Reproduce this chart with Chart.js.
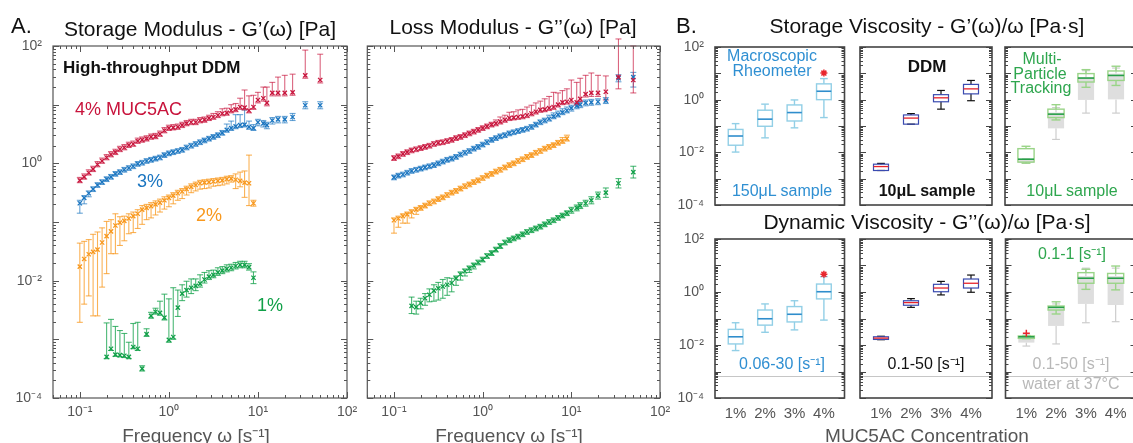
<!DOCTYPE html>
<html>
<head>
<meta charset="utf-8">
<title>MUC5AC rheology</title>
<script src="https://cdn.jsdelivr.net/npm/chart.js@4.4.1/dist/chart.umd.min.js"></script>
<style>
  html, body { margin: 0; padding: 0; background: #fff; }
  body { position: relative; width: 1133px; height: 443px; overflow: hidden; font-family: "Liberation Sans", Arial, sans-serif; }
  .box { position: absolute; }
  .txt { position: absolute; white-space: nowrap; line-height: 1; }
</style>
</head>
<body>
<div class="box" style="left:0;top:30px;width:365px;height:413px"><canvas id="gStore"></canvas></div>
<div class="box" style="left:362px;top:30px;width:318px;height:413px"><canvas id="gLoss"></canvas></div>
<div class="box" style="left:675px;top:32px;width:175px;height:183px"><canvas id="rheoS"></canvas></div>
<div class="box" style="left:855px;top:32px;width:142px;height:183px"><canvas id="ddmS"></canvas></div>
<div class="box" style="left:1000px;top:32px;width:142px;height:183px"><canvas id="mptS"></canvas></div>
<div class="box" style="left:675px;top:226px;width:175px;height:217px"><canvas id="rheoL"></canvas></div>
<div class="box" style="left:855px;top:226px;width:142px;height:217px"><canvas id="ddmL"></canvas></div>
<div class="box" style="left:1000px;top:226px;width:142px;height:217px"><canvas id="mptL"></canvas></div>
<script>
// ---- data (stored as log10 values) ----

// frequency [1/s]
const freq = [0.10,0.112,0.126,0.141,0.158,0.178,0.20,0.224,0.251,0.282,
              0.316,0.355,0.398,0.447,0.501,0.562,0.631,0.708,0.794,0.891,
              1.00,1.12,1.26,1.41,1.58,1.78,2.00,2.24,2.51,2.82,
              3.16,3.55,3.98,4.47,5.01,5.62,6.31,7.08,7.94,8.91,
              10.0,11.5,12.6,14.5,16.8,20.0,24.5,34.0,50.0];

const freqTicks = [0.1, 1, 10, 100];
const modTicks = [1e-4, 1e-2, 1, 100];
const concLabels = ['1%', '2%', '3%', '4%'];

// log10 G'(w) [Pa] and error bar lengths (decades up / down)
const gp4 = [-0.29,-0.23,-0.16,-0.10,-0.02,0.04,0.10,0.15,0.19,0.24,
             0.27,0.31,0.33,0.38,0.40,0.42,0.45,0.46,0.50,0.56,
             0.60,0.61,0.62,0.65,0.68,0.70,0.70,0.73,0.74,0.77,
             0.79,0.82,0.85,0.86,0.90,0.92,0.96,0.95,0.90,0.96,
             1.08,1.11,1.03,1.20,1.20,1.20,1.21,1.50,1.42];
const gp4Up = [0.05,0.05,0.05,0.05,0.05,0.05,0.05,0.05,0.05,0.05,
               0.05,0.05,0.05,0.05,0.05,0.05,0.05,0.05,0.05,0.05,
               0.05,0.05,0.05,0.05,0.05,0.05,0.05,0.05,0.05,0.05,
               0.06,0.06,0.08,0.08,0.10,0.10,0.15,0.30,0.25,0.20,
               0.13,0.19,0.27,0.18,0.27,0.30,0.31,0.43,0.44];
const gp4Dn = [0.04,0.04,0.04,0.04,0.04,0.04,0.04,0.04,0.04,0.04,
               0.04,0.04,0.04,0.04,0.04,0.04,0.04,0.04,0.04,0.04,
               0.04,0.04,0.04,0.04,0.04,0.04,0.04,0.04,0.04,0.04,
               0.04,0.04,0.04,0.04,0.04,0.04,0.04,0.04,0.04,0.04,
               0.05,0.05,0.05,0.05,0.05,0.05,0.05,0.05,0.05];

const gp3 = [-0.68,-0.59,-0.51,-0.44,-0.37,-0.32,-0.27,-0.23,-0.18,-0.15,
             -0.11,-0.08,-0.05,-0.01,0.01,0.04,0.06,0.08,0.10,0.14,
             0.17,0.19,0.21,0.23,0.27,0.30,0.33,0.36,0.39,0.42,
             0.45,0.48,0.52,0.57,0.60,0.63,0.65,0.66,0.62,0.60,
             0.70,0.68,0.65,0.73,0.75,0.75,0.79,0.99,0.99];
const gp3Up = [0.05,0.04,0.04,0.04,0.04,0.04,0.04,0.04,0.04,0.04,
               0.04,0.04,0.04,0.04,0.04,0.04,0.04,0.04,0.04,0.04,
               0.04,0.04,0.04,0.04,0.04,0.04,0.04,0.04,0.04,0.04,
               0.04,0.04,0.04,0.10,0.12,0.20,0.18,0.25,0.10,0.06,
               0.05,0.05,0.05,0.05,0.05,0.05,0.06,0.06,0.06];
const gp3Dn = [0.17,0.10,0.06,0.04,0.04,0.04,0.04,0.04,0.04,0.04,
               0.04,0.04,0.04,0.04,0.04,0.04,0.04,0.04,0.04,0.04,
               0.04,0.04,0.04,0.04,0.04,0.04,0.04,0.04,0.04,0.04,
               0.04,0.04,0.04,0.04,0.04,0.04,0.04,0.04,0.04,0.04,
               0.06,0.06,0.06,0.06,0.06,0.06,0.06,0.06,0.06];

const gp2 = [-1.76,-1.63,-1.55,-1.51,-1.47,-1.35,-1.24,-1.16,-1.06,-1.01,
             -0.98,-0.94,-0.90,-0.86,-0.79,-0.76,-0.73,-0.70,-0.67,-0.63,
             -0.59,-0.55,-0.51,-0.48,-0.44,-0.40,-0.37,-0.34,-0.33,-0.32,
             -0.31,-0.30,-0.29,-0.27,-0.26,-0.28,-0.30,-0.33,-0.34,-0.68,
             null,null,null,null,null,null,null,null,null];
const gp2Up = [0.40,0.30,0.25,0.30,0.30,0.25,0.25,0.20,0.20,0.10,
               0.08,0.08,0.07,0.07,0.07,0.06,0.06,0.06,0.06,0.06,
               0.05,0.05,0.05,0.05,0.05,0.05,0.05,0.05,0.05,0.05,
               0.05,0.05,0.05,0.05,0.05,0.10,0.15,0.20,0.48,0.05,
               null,null,null,null,null,null,null,null,null];
const gp2Dn = [0.95,0.77,0.71,1.09,1.13,0.76,0.64,0.38,0.48,0.39,
               0.34,0.26,0.28,0.25,0.25,0.20,0.20,0.18,0.16,0.15,
               0.15,0.14,0.12,0.12,0.10,0.10,0.10,0.10,0.10,0.10,
               0.08,0.08,0.08,0.08,0.06,0.15,0.10,0.25,0.38,0.05,
               null,null,null,null,null,null,null,null,null];

const gp1 = [null,null,null,null,null,null,-3.30,-3.16,-3.26,-3.27,
             -3.28,-3.30,-3.13,-3.16,-3.50,-2.91,-2.60,-2.53,-2.55,-2.63,
             -3.01,-2.96,-2.46,-2.22,-2.16,-2.12,-2.09,-2.05,-1.98,-1.93,
             -1.90,-1.86,-1.83,-1.80,-1.78,-1.75,-1.73,-1.73,-1.77,-1.95,
             null,null,null,null,null,null,null,null,null];
const gp1Up = [null,null,null,null,null,null,0.58,0.50,0.48,0.42,
               0.38,0.25,0.40,0.45,0.05,0.09,0.06,0.06,0.20,0.40,
               0.70,0.84,0.30,0.15,0.15,0.15,0.12,0.15,0.12,0.10,
               0.08,0.08,0.07,0.07,0.06,0.06,0.06,0.06,0.06,0.10,
               null,null,null,null,null,null,null,null,null];
const gp1Dn = [null,null,null,null,null,null,0.03,0.03,0.03,0.03,
               0.03,0.03,0.03,0.03,0.04,0.04,0.04,0.04,0.04,0.04,
               0.04,0.04,0.15,0.12,0.12,0.10,0.08,0.06,0.06,0.05,
               0.05,0.05,0.05,0.05,0.05,0.05,0.05,0.05,0.05,0.10,
               null,null,null,null,null,null,null,null,null];

// log10 G''(w) [Pa]
const gpp4 = [0.09,0.12,0.16,0.19,0.22,0.24,0.26,0.28,0.30,0.33,
              0.35,0.36,0.38,0.40,0.43,0.45,0.48,0.51,0.54,0.57,
              0.60,0.63,0.66,0.68,0.71,0.74,0.77,0.78,0.79,0.80,
              0.82,0.85,0.88,0.91,0.92,0.94,0.96,1.00,1.04,1.05,
              1.08,1.04,1.10,1.18,1.20,1.20,1.22,1.47,1.42];
const gpp4Up = [0.04,0.04,0.04,0.04,0.04,0.04,0.04,0.04,0.04,0.04,
                0.04,0.04,0.04,0.04,0.04,0.04,0.04,0.04,0.04,0.04,
                0.04,0.04,0.04,0.06,0.08,0.08,0.10,0.10,0.12,0.12,
                0.14,0.14,0.15,0.15,0.18,0.20,0.25,0.20,0.20,0.22,
                0.34,0.34,0.35,0.32,0.34,0.30,0.27,0.65,0.58];
const gpp4Dn = [0.04,0.04,0.04,0.04,0.04,0.04,0.04,0.04,0.04,0.04,
                0.04,0.04,0.04,0.04,0.04,0.04,0.04,0.04,0.04,0.04,
                0.04,0.04,0.04,0.04,0.04,0.04,0.04,0.04,0.04,0.04,
                0.04,0.04,0.04,0.04,0.04,0.04,0.04,0.04,0.04,0.04,
                0.05,0.05,0.05,0.05,0.06,0.06,0.14,0.20,0.22];

const gpp3 = [-0.24,-0.21,-0.19,-0.16,-0.13,-0.11,-0.09,-0.07,-0.05,-0.03,
              0.00,0.03,0.06,0.08,0.11,0.15,0.18,0.21,0.25,0.28,
              0.32,0.36,0.40,0.43,0.46,0.48,0.51,0.53,0.55,0.57,
              0.59,0.62,0.66,0.70,0.73,0.76,0.80,0.83,0.87,0.90,
              0.94,0.98,1.00,1.03,1.04,1.05,1.07,1.45,1.47];
const gpp3Up = [0.04,0.04,0.04,0.04,0.04,0.04,0.04,0.04,0.04,0.04,
                0.04,0.04,0.04,0.04,0.04,0.04,0.04,0.04,0.04,0.04,
                0.04,0.04,0.04,0.04,0.04,0.04,0.04,0.04,0.04,0.04,
                0.04,0.04,0.04,0.04,0.04,0.06,0.06,0.06,0.06,0.06,
                0.05,0.05,0.05,0.05,0.05,0.05,0.05,0.06,0.08];
const gpp3Dn = [0.04,0.04,0.04,0.04,0.04,0.04,0.04,0.04,0.04,0.04,
                0.04,0.04,0.04,0.04,0.04,0.04,0.04,0.04,0.04,0.04,
                0.04,0.04,0.04,0.04,0.04,0.04,0.04,0.04,0.04,0.04,
                0.04,0.04,0.04,0.04,0.04,0.04,0.04,0.04,0.04,0.04,
                0.05,0.05,0.05,0.05,0.05,0.05,0.05,0.06,0.17];

const gpp2 = [-0.97,-0.94,-0.90,-0.87,-0.83,-0.79,-0.76,-0.72,-0.68,-0.65,
              -0.61,-0.58,-0.54,-0.50,-0.47,-0.43,-0.39,-0.36,-0.32,-0.29,
              -0.25,-0.21,-0.18,-0.14,-0.11,-0.07,-0.03,0.00,0.04,0.07,
              0.11,0.14,0.18,0.21,0.25,0.28,0.31,0.35,0.38,0.42,
              null,null,null,null,null,null,null,null,null];
const gpp2Up = [0.04,0.04,0.04,0.04,0.04,0.04,0.04,0.04,0.04,0.04,
                0.04,0.04,0.04,0.04,0.04,0.04,0.04,0.04,0.04,0.04,
                0.04,0.04,0.04,0.04,0.04,0.04,0.04,0.04,0.04,0.04,
                0.04,0.04,0.04,0.04,0.04,0.04,0.04,0.04,0.06,0.06,
                null,null,null,null,null,null,null,null,null];
const gpp2Dn = [0.22,0.15,0.12,0.15,0.10,0.08,0.04,0.04,0.04,0.04,
                0.04,0.04,0.04,0.04,0.04,0.04,0.04,0.04,0.04,0.04,
                0.04,0.04,0.04,0.04,0.04,0.04,0.04,0.04,0.04,0.04,
                0.04,0.04,0.04,0.04,0.04,0.04,0.04,0.04,0.04,0.04,
                null,null,null,null,null,null,null,null,null];

const gpp1 = [null,null,null,null,-2.43,-2.45,-2.38,-2.30,-2.24,-2.17,
              -2.13,-2.10,-2.07,-2.04,-1.96,-1.89,-1.84,-1.79,-1.74,-1.69,
              -1.64,-1.58,-1.53,-1.47,-1.41,-1.35,-1.31,-1.28,-1.25,-1.21,
              -1.17,-1.14,-1.11,-1.08,-1.04,-1.00,-0.97,-0.93,-0.89,-0.85,
              -0.80,-0.76,-0.72,-0.68,-0.63,-0.55,-0.50,-0.34,-0.15];
const gpp1Up = [null,null,null,null,0.15,0.10,0.08,0.08,0.10,0.10,
                0.10,0.12,0.12,0.08,0.04,0.04,0.04,0.04,0.04,0.04,
                0.04,0.04,0.04,0.04,0.04,0.04,0.04,0.04,0.04,0.04,
                0.04,0.04,0.04,0.04,0.04,0.04,0.04,0.04,0.04,0.04,
                0.05,0.05,0.05,0.05,0.06,0.06,0.08,0.08,0.10];
const gpp1Dn = [null,null,null,null,0.13,0.12,0.10,0.12,0.12,0.18,
                0.20,0.20,0.18,0.15,0.12,0.10,0.08,0.07,0.06,0.04,
                0.04,0.04,0.04,0.04,0.04,0.04,0.04,0.04,0.04,0.04,
                0.04,0.04,0.04,0.04,0.04,0.04,0.04,0.04,0.04,0.04,
                0.05,0.05,0.05,0.05,0.06,0.06,0.08,0.08,0.10];

// box plots, log10 [Pa.s]: [whisker low, q1, median, q3, whisker high] for 1%..4%
const rheoStorage = [[-1.99,-1.73,-1.38,-1.13,-0.91],[-1.45,-1.01,-0.74,-0.40,-0.17],
                     [-1.07,-0.81,-0.49,-0.20,-0.01],[-0.68,0.00,0.32,0.60,0.80]];
const rheoStorageOut = [[4, 1.01]];
const ddmStorage = [[-2.69,-2.69,-2.54,-2.45,-2.42],[-0.93,-0.93,-0.70,-0.58,-0.53],
                    [-0.36,-0.08,0.07,0.19,0.35],[-0.04,0.22,0.41,0.58,0.73]];
const mptStorage = [[-2.41,-2.37,-2.26,-1.86,-1.77],[-0.77,-0.68,-0.55,-0.36,-0.19],
                    [0.47,0.67,0.82,0.99,1.14],[0.54,0.73,0.92,1.09,1.27]];
const mptStorageAll = [[-2.42,-2.40,-2.32,-2.28,-2.25],[-1.51,-1.09,-0.70,-0.49,-0.30],
                       [-0.51,-0.01,0.60,0.86,1.10],[-0.51,0.01,0.60,0.99,1.20]];

const rheoLoss = [[-2.21,-1.96,-1.69,-1.41,-1.16],[-1.52,-1.25,-1.01,-0.68,-0.45],
                  [-1.43,-1.13,-0.84,-0.55,-0.33],[-1.06,-0.26,0.01,0.30,0.58]];
const rheoLossOut = [[4, 0.67]];
const ddmLoss = [[-1.80,-1.79,-1.74,-1.69,-1.67],[-0.58,-0.50,-0.40,-0.33,-0.25],
                 [-0.11,0.01,0.15,0.29,0.40],[-0.01,0.15,0.33,0.49,0.64]];
const mptLoss = [[-1.76,-1.75,-1.69,-1.66,-1.65],[-0.83,-0.68,-0.58,-0.53,-0.37],
                 [0.10,0.33,0.52,0.73,0.86],[0.08,0.33,0.52,0.70,0.98]];
const mptLossOut = [[1, -1.56]];
const mptLossAll = [[-2.04,-1.91,-1.75,-1.69,-1.62],[-1.96,-1.28,-0.70,-0.62,-0.45],
                    [-1.16,-0.45,0.30,0.60,0.90],[-1.12,-0.49,0.30,0.60,0.90]];

const waterVisc = 0.00069; // Pa.s, water at 37 C

// ---- helpers ----
Chart.defaults.font.family = '"Liberation Sans", Arial, sans-serif';
Chart.defaults.color = '#555';
Chart.defaults.animation = false;

const SUP = {'-4': '⁻⁴', '-3': '⁻³', '-2': '⁻²', '-1': '⁻¹', '0': '⁰', '1': '¹', '2': '²'};
function decade(v) {
    return '10' + SUP[Math.round(Math.log10(v))];
}

function line(ctx, x1, y1, x2, y2) {
    ctx.beginPath();
    ctx.moveTo(x1, y1);
    ctx.lineTo(x2, y2);
    ctx.stroke();
}

function logMarks(scale) {
    const out = [];
    const lo = Math.floor(Math.log10(scale.min)), hi = Math.ceil(Math.log10(scale.max));
    for (let d = lo; d <= hi; d++) {
        for (let m = 1; m <= 9; m++) {
            const v = m * Math.pow(10, d);
            if (v >= scale.min * 0.999 && v <= scale.max * 1.001) out.push([v, m === 1]);
        }
    }
    return out;
}

function series(vals, up, dn) {
    const pts = [];
    freq.forEach((f, i) => {
        if (vals[i] == null) return;
        pts.push({ x: f, y: Math.pow(10, vals[i]), up: up[i] || 0, dn: dn[i] || 0 });
    });
    return pts;
}

// fix an axis box to a set size and drop the label overhang padding,
// so the chart area lands exactly where the layout padding puts it
function fixSize(prop, size) {
    return s => {
        s[prop] = size;
        s.paddingTop = 0; s.paddingBottom = 0;
        s.paddingLeft = 0; s.paddingRight = 0;
    };
}

// frame with inward log ticks
const frameTicks = {
    id: 'frameTicks',
    afterDatasetsDraw(chart, args, o) {
        const { ctx, chartArea: a, scales } = chart;
        ctx.save();
        ctx.strokeStyle = o.color;
        ctx.lineWidth = 1;
        if (o.xLog) {
            logMarks(scales.x).forEach(([v, major]) => {
                const px = Math.round(scales.x.getPixelForValue(v)) + 0.5;
                const len = major ? o.major : o.minor;
                line(ctx, px, a.bottom, px, a.bottom - len);
                line(ctx, px, a.top, px, a.top + len);
            });
        }
        logMarks(scales.y).forEach(([v, major]) => {
            const py = Math.round(scales.y.getPixelForValue(v)) + 0.5;
            const len = major ? o.major : o.minor;
            line(ctx, a.left, py, a.left + len, py);
            line(ctx, a.right, py, a.right - len, py);
        });
        ctx.lineWidth = o.width;
        ctx.strokeRect(a.left, a.top, a.right - a.left, a.bottom - a.top);
        ctx.restore();
    }
};

// vertical error bars with caps
const errBars = {
    id: 'errBars',
    beforeDatasetsDraw(chart) {
        const { ctx, scales: { x, y } } = chart;
        ctx.save();
        ctx.lineWidth = 1.1;
        for (let k = chart.data.datasets.length - 1; k >= 0; k--) {
            const ds = chart.data.datasets[k];
            ctx.strokeStyle = ds.barColor;
            ds.data.forEach(p => {
                const px = x.getPixelForValue(p.x);
                const top = y.getPixelForValue(p.y * Math.pow(10, p.up));
                const bot = y.getPixelForValue(p.y / Math.pow(10, p.dn));
                line(ctx, px, top, px, bot);
                line(ctx, px - 3, top, px + 3, top);
                line(ctx, px - 3, bot, px + 3, bot);
            });
        }
        ctx.restore();
    }
};

// box and whisker drawing
const boxPlot = {
    id: 'boxPlot',
    beforeDatasetsDraw(chart, args, o) {
        const { ctx, chartArea: a, scales: { x, y } } = chart;
        ctx.save();
        if (o.water) {
            const py = Math.round(y.getPixelForValue(o.water)) + 0.5;
            ctx.strokeStyle = '#c6c6c6';
            ctx.lineWidth = 1.2;
            line(ctx, a.left, py, a.right, py);
        }
        chart.data.datasets.forEach(ds => {
            if (!ds.boxes) return;
            const s = ds.boxStyle;
            const unit = x.getPixelForValue(2) - x.getPixelForValue(1);
            const hw = s.half * unit, cw = s.cap * unit;
            ds.boxes.forEach((b, i) => {
                const cx = x.getPixelForValue(i + 1);
                const [lo, q1, md, q3, hi] = b.map(v => y.getPixelForValue(Math.pow(10, v)));
                ctx.strokeStyle = s.whisker;
                ctx.lineWidth = s.lw;
                line(ctx, cx, q3, cx, hi);
                line(ctx, cx, q1, cx, lo);
                line(ctx, cx - cw, hi, cx + cw, hi);
                line(ctx, cx - cw, lo, cx + cw, lo);
                if (s.fill) {
                    ctx.fillStyle = s.fill;
                    ctx.fillRect(cx - hw, q3, 2 * hw, q1 - q3);
                }
                if (s.edge) {
                    ctx.strokeStyle = s.edge;
                    ctx.strokeRect(cx - hw, q3, 2 * hw, q1 - q3);
                }
                if (s.median) {
                    ctx.strokeStyle = s.median;
                    ctx.lineWidth = s.mlw;
                    line(ctx, cx - hw, md, cx + hw, md);
                }
            });
        });
        ctx.restore();
    }
};

const tickFont = { size: 14 };

function modulusChart(id, sets, showY, pad) {
    return new Chart(document.getElementById(id), {
        type: 'scatter',
        data: {
            datasets: sets.map(s => ({
                data: s.points,
                borderColor: s.color,
                backgroundColor: s.color,
                barColor: s.bar,
                pointStyle: 'crossRot',
                pointRadius: 3,
                borderWidth: 1.3,
                showLine: false
            }))
        },
        options: {
            responsive: true,
            maintainAspectRatio: false,
            events: [],
            layout: { padding: pad },
            plugins: {
                legend: { display: false },
                tooltip: { enabled: false },
                frameTicks: { color: '#555', width: 1.2, major: 6, minor: 3, xLog: true }
            },
            scales: {
                x: {
                    type: 'logarithmic', min: 0.05, max: 100,
                    grid: { display: false, drawTicks: false },
                    border: { display: false },
                    afterBuildTicks: s => { s.ticks = freqTicks.map(v => ({ value: v })); },
                    afterFit: fixSize('height', 45),
                    ticks: { callback: v => decade(v), autoSkip: false, maxRotation: 0, padding: 6, font: tickFont, color: '#555' }
                },
                y: {
                    type: 'logarithmic', min: 1e-4, max: 100,
                    display: showY,
                    grid: { display: false, drawTicks: false },
                    border: { display: false },
                    afterBuildTicks: s => { s.ticks = modTicks.map(v => ({ value: v })); },
                    afterFit: fixSize('width', showY ? 53 : 0),
                    ticks: { callback: v => decade(v), autoSkip: false, padding: 11, font: tickFont, color: '#555' }
                }
            }
        },
        plugins: [errBars, frameTicks]
    });
}

function boxSet(boxes, style) {
    return {
        data: boxes.map((b, i) => ({ x: i + 1, y: Math.pow(10, b[2]) })),
        boxes: boxes,
        boxStyle: style,
        pointRadius: 0
    };
}

function outlierSet(list, style) {
    return {
        data: list.map(([c, v]) => ({ x: c, y: Math.pow(10, v) })),
        pointStyle: style,
        pointRadius: 3.5,
        borderColor: '#e8262d',
        backgroundColor: '#e8262d',
        borderWidth: 1.5
    };
}

function viscChart(id, datasets, o) {
    return new Chart(document.getElementById(id), {
        type: 'scatter',
        data: { datasets: datasets },
        options: {
            responsive: true,
            maintainAspectRatio: false,
            events: [],
            layout: { padding: o.pad },
            plugins: {
                legend: { display: false },
                tooltip: { enabled: false },
                frameTicks: { color: '#444', width: 1.6, major: 6, minor: 3, xLog: false },
                boxPlot: { water: o.water }
            },
            scales: {
                x: {
                    type: 'linear', min: 0.3, max: 4.7,
                    display: o.showX,
                    grid: { display: false, drawTicks: false },
                    border: { display: false },
                    afterBuildTicks: s => { s.ticks = [1, 2, 3, 4].map(v => ({ value: v })); },
                    afterFit: fixSize('height', o.showX ? 45 : 0),
                    ticks: { callback: v => concLabels[v - 1], autoSkip: false, maxRotation: 0, padding: 7, font: { size: 15 }, color: '#555' }
                },
                y: {
                    type: 'logarithmic', min: 1e-4, max: 100,
                    display: o.showY,
                    grid: { display: false, drawTicks: false },
                    border: { display: false },
                    afterBuildTicks: s => { s.ticks = modTicks.map(v => ({ value: v })); },
                    afterFit: fixSize('width', o.showY ? 40 : 0),
                    ticks: { callback: v => decade(v), autoSkip: false, padding: 11, font: tickFont, color: '#555' }
                }
            }
        },
        plugins: [boxPlot, frameTicks]
    });
}

// ---- colours ----
const RED = '#c8143c', BLUE = '#1a75c0', ORANGE = '#f8981d', GREEN = '#10a048';
const rheoStyle = { edge: '#92cfe6', median: '#2f8dcc', whisker: '#92cfe6', half: 0.25, cap: 0.13, lw: 1.4, mlw: 1.6 };
const ddmStyle = { edge: '#3a4bb0', median: '#e8232b', whisker: '#111', half: 0.25, cap: 0.13, lw: 1.2, mlw: 1.3 };
const mptStyle = { edge: '#9ad488', median: '#27a048', whisker: '#9ad488', half: 0.27, cap: 0.15, lw: 1.4, mlw: 1.6 };
const grayStyle = { fill: '#dedede', whisker: '#cdcdcd', half: 0.27, cap: 0.13, lw: 1.2 };

// ---- panel A ----
modulusChart('gStore', [
    { points: series(gp4, gp4Up, gp4Dn), color: RED, bar: 'rgba(200,20,60,0.65)' },
    { points: series(gp3, gp3Up, gp3Dn), color: BLUE, bar: 'rgba(26,117,192,0.65)' },
    { points: series(gp2, gp2Up, gp2Dn), color: ORANGE, bar: 'rgba(248,152,29,0.75)' },
    { points: series(gp1, gp1Up, gp1Dn), color: GREEN, bar: 'rgba(16,160,72,0.75)' }
], true, { top: 16, right: 18, left: 0, bottom: 0 });

modulusChart('gLoss', [
    { points: series(gpp4, gpp4Up, gpp4Dn), color: RED, bar: 'rgba(200,20,60,0.65)' },
    { points: series(gpp3, gpp3Up, gpp3Dn), color: BLUE, bar: 'rgba(26,117,192,0.65)' },
    { points: series(gpp2, gpp2Up, gpp2Dn), color: ORANGE, bar: 'rgba(248,152,29,0.75)' },
    { points: series(gpp1, gpp1Up, gpp1Dn), color: GREEN, bar: 'rgba(16,160,72,0.75)' }
], false, { top: 16, right: 20, left: 4, bottom: 0 });

// ---- panel B ----
viscChart('rheoS', [boxSet(rheoStorage, rheoStyle), outlierSet(rheoStorageOut, 'star')],
    { showY: true, showX: false, pad: { top: 15, right: 3, bottom: 10, left: 0 } });
viscChart('ddmS', [boxSet(ddmStorage, ddmStyle)],
    { showY: false, showX: false, pad: { top: 15, right: 5, bottom: 10, left: 5 } });
viscChart('mptS', [boxSet(mptStorageAll, grayStyle), boxSet(mptStorage, mptStyle)],
    { showY: false, showX: false, pad: { top: 15, right: 5, bottom: 10, left: 5 } });

viscChart('rheoL', [boxSet(rheoLoss, rheoStyle), outlierSet(rheoLossOut, 'star')],
    { showY: true, showX: true, water: waterVisc, pad: { top: 13, right: 3, bottom: 0, left: 0 } });
viscChart('ddmL', [boxSet(ddmLoss, ddmStyle)],
    { showY: false, showX: true, water: waterVisc, pad: { top: 13, right: 5, bottom: 0, left: 5 } });
viscChart('mptL', [outlierSet(mptLossOut, 'cross'), boxSet(mptLossAll, grayStyle), boxSet(mptLoss, mptStyle)],
    { showY: false, showX: true, water: waterVisc, pad: { top: 13, right: 5, bottom: 0, left: 5 } });

// ---- text ----
const BLUE2 = '#2f8fd2', GREEN2 = '#2ea64e', GRAY = '#b8b8b8';
const texts = [
    // text, x, baseline, size, colour, align, bold
    ['A.', 11, 34, 22, '#111', 'left'],
    ['Storage Modulus - G’(ω) [Pa]', 200, 36, 21, '#111', 'center'],
    ['Loss Modulus - G’’(ω) [Pa]', 513, 34, 21, '#111', 'center'],
    ['B.', 676, 34, 22, '#111', 'left'],
    ['Storage Viscosity - G’(ω)/ω [Pa·s]', 927, 33, 21, '#111', 'center'],
    ['Dynamic Viscosity - G’’(ω)/ω [Pa·s]', 927, 229, 21, '#111', 'center'],
    ['Frequency ω [s⁻¹]', 196, 442, 19, '#555', 'center'],
    ['Frequency ω [s⁻¹]', 509, 442, 19, '#555', 'center'],
    ['MUC5AC Concentration', 927, 442, 19, '#555', 'center'],
    ['High-throughput DDM', 63, 73, 17, '#111', 'left', true],
    ['4% MUC5AC', 75, 115, 18, RED, 'left'],
    ['3%', 137, 187, 18, BLUE, 'left'],
    ['2%', 196, 221, 18, ORANGE, 'left'],
    ['1%', 257, 311, 18, GREEN, 'left'],
    ['Macroscopic', 772, 62, 16, BLUE2, 'center'],
    ['Rheometer', 772, 77, 16, BLUE2, 'center'],
    ['DDM', 927, 72, 17, '#111', 'center', true],
    ['Multi-', 1042, 65, 16, GREEN2, 'center'],
    ['Particle', 1040, 80, 16, GREEN2, 'center'],
    ['Tracking', 1041, 94, 16, GREEN2, 'center'],
    ['150μL sample', 782, 197, 16, BLUE2, 'center'],
    ['10μL sample', 927, 197, 16, '#111', 'center', true],
    ['10μL sample', 1072, 197, 16, GREEN2, 'center'],
    ['0.06-30 [s⁻¹]', 782, 370, 16, BLUE2, 'center'],
    ['0.1-50 [s⁻¹]', 926, 370, 16, '#111', 'center'],
    ['0.1-1 [s⁻¹]', 1072, 260, 16, GREEN2, 'center'],
    ['0.1-50 [s⁻¹]', 1071, 370, 16, GRAY, 'center'],
    ['water at 37°C', 1071, 390, 16, GRAY, 'center']
];
texts.forEach(([t, x, base, size, color, align, bold]) => {
    const d = document.createElement('div');
    d.className = 'txt';
    d.textContent = t;
    d.style.fontSize = size + 'px';
    d.style.color = color;
    if (bold) d.style.fontWeight = 'bold';
    d.style.top = (base - 0.85 * size) + 'px';
    d.style.left = x + 'px';
    if (align === 'center') d.style.transform = 'translateX(-50%)';
    document.body.appendChild(d);
});
</script>
</body>
</html>
